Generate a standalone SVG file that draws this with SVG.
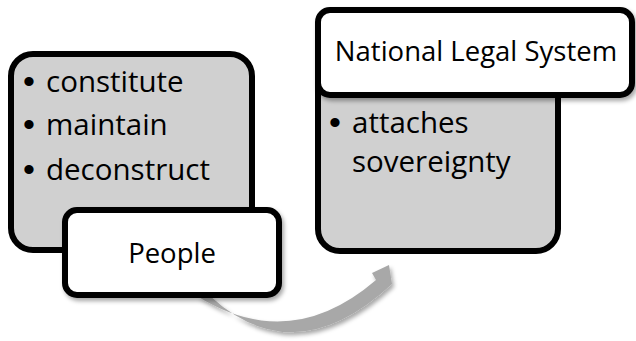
<svg xmlns="http://www.w3.org/2000/svg" width="636" height="341" viewBox="0 0 636 341">
  <defs>
    <filter id="soft-shadow" x="-10%" y="-10%" width="130%" height="140%">
      <feDropShadow dx="2" dy="3" stdDeviation="2" flood-color="#000" flood-opacity="0.35"/>
    </filter>
  </defs>
  <style>
    .panel { fill: #d0d0d0; stroke: #000; stroke-width: 6; }
    .label { fill: #fff; stroke: #000; stroke-width: 6; filter: url(#soft-shadow); }
    .body { font-family: "Open Sans", "Noto Sans", sans-serif; font-size: 29.5px; fill: #000; }
    .bullet { font-family: "Liberation Sans", Arial, sans-serif; font-size: 34px; fill: #000; text-anchor: middle; }
    .title { font-family: "Open Sans", "Noto Sans", sans-serif; font-size: 27.5px; fill: #000; text-anchor: middle; }
    .flow { fill: #a8a8a8; filter: url(#soft-shadow); }
  </style>

  <!-- curved flow arrow, drawn beneath the boxes -->
  <g id="connectors">
    <path class="flow" d="M197,296 Q290,354 376,280 L372,273 L389,265 L392,284 Q295,374 210,296 Z"/>
  </g>

  <!-- left panel: actions of the people -->
  <g id="people-panel">
    <rect class="panel" x="11" y="54" width="241" height="196" rx="22"/>
    <text class="bullet" x="29" y="93">•</text>
    <text class="body" x="46" y="92">constitute</text>
    <text class="bullet" x="29" y="136">•</text>
    <text class="body" x="46" y="135">maintain</text>
    <text class="bullet" x="29" y="181">•</text>
    <text class="body" x="46" y="180">deconstruct</text>
  </g>

  <g id="people">
    <rect class="label" x="65" y="210" width="214" height="85" rx="12"/>
    <text class="title" x="172" y="263">People</text>
  </g>

  <!-- right panel: what the legal system does -->
  <g id="legal-panel">
    <rect class="panel" x="318" y="54" width="240" height="197" rx="22"/>
    <text class="bullet" x="335" y="134">•</text>
    <text class="body" x="352" y="133">attaches</text>
    <text class="body" x="352" y="172">sovereignty</text>
  </g>

  <g id="national-legal-system">
    <rect class="label" x="318" y="10" width="314" height="85" rx="12"/>
    <text class="title" x="476" y="61">National Legal System</text>
  </g>
</svg>
